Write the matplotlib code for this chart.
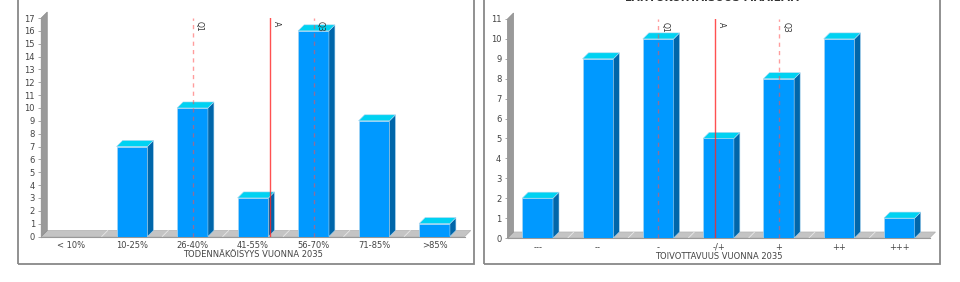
import matplotlib
matplotlib.use("Agg")
import matplotlib.pyplot as plt
from matplotlib.patches import Polygon, Rectangle

# data
cats_left = ["< 10%", "10-25%", "26-40%", "41-55%", "56-70%", "71-85%", ">85%"]
vals_left = [0, 7, 10, 3, 16, 9, 1]
marks_left = {"Q1": 2.0, "A": 3.28, "Q3": 4.0}

cats_right = ["---", "--", "-", "-/+", "+", "++", "+++"]
vals_right = [2, 9, 10, 5, 8, 10, 1]
marks_right = {"Q1": 2.0, "A": 2.94, "Q3": 4.0}

W, H = 960, 282
fig = plt.figure(figsize=(W / 100, H / 100), dpi=100)
fig.patch.set_facecolor("white")


def px_axes(x0, x1, ytop, ybot):
    # pixel box (y from top) -> figure fraction axes
    return fig.add_axes([x0 / W, 1 - ybot / H, (x1 - x0) / W, (ybot - ytop) / H])


def frame(x0, x1, ytop, ybot):
    r = Rectangle((x0 / W, 1 - ybot / H), (x1 - x0) / W, (ybot - ytop) / H,
                  transform=fig.transFigure, fill=False, edgecolor="#888888", lw=1.3)
    fig.add_artist(r)


def draw_panel(ax, cats, vals, marks, ymax, xlabel, wpx, hpx):
    n = len(cats)
    ax.set_xlim(-0.5, n - 0.5)
    ax.set_ylim(0, ymax)
    dx = 6 / (wpx / n)
    dy = 6 / (hpx / ymax)
    x0, x1 = -0.5, n - 0.5

    # floor and wall
    ax.add_patch(Polygon([(x0, 0), (x1, 0), (x1 + dx, dy), (x0 + dx, dy)],
                         closed=True, fc="#c4c4c4", ec="#b0b0b0", lw=0.5,
                         zorder=1, clip_on=False))
    ax.add_patch(Polygon([(x0, 0), (x0 + dx, dy), (x0 + dx, ymax + dy), (x0, ymax)],
                         closed=True, fc="#9a9a9a", ec="#8a8a8a", lw=0.5,
                         zorder=1, clip_on=False))
    for k in range(n - 1):
        ax.plot([k + 0.5, k + 0.5 + dx], [0, dy], color="#e8e8e8", lw=0.6,
                zorder=1.5, clip_on=False)

    # bars with 3D faces
    w = 0.51
    xs = list(range(n))
    ax.bar(xs, vals, width=w, color="#0099ff", edgecolor="#a8d4f0", lw=0.5, zorder=3)
    for x, v in zip(xs, vals):
        if v == 0:
            continue
        r = x + w / 2
        l = x - w / 2
        ax.add_patch(Polygon([(r, 0), (r + dx, dy), (r + dx, v + dy), (r, v)],
                             closed=True, fc="#0066aa", ec="#a8d4f0", lw=0.4,
                             zorder=3, clip_on=False))
        ax.add_patch(Polygon([(l, v), (r, v), (r + dx, v + dy), (l + dx, v + dy)],
                             closed=True, fc="#00d2f2", ec="#a8d4f0", lw=0.4,
                             zorder=3, clip_on=False))

    # quartile / average markers
    for name, pos in marks.items():
        if name == "A":
            ax.plot([pos, pos], [0, ymax], color=(1, 0.15, 0.15, 0.8), lw=1.0, zorder=5)
        else:
            ax.plot([pos, pos], [0, ymax], color=(1, 0.3, 0.3, 0.55), lw=1.0,
                    ls=(0, (3, 3)), zorder=5)
        ax.text(pos + 0.04, ymax - 0.15 * ymax / 17 * 1.5, name, rotation=-90,
                ha="left", va="top", fontsize=5.5, color="#333333", zorder=6)

    for s in ["top", "right"]:
        ax.spines[s].set_visible(False)
    ax.spines["left"].set_color("#999999")
    ax.spines["left"].set_linewidth(0.8)
    ax.spines["bottom"].set_color("#999999")
    ax.spines["bottom"].set_linewidth(0.8)
    ax.set_yticks(range(0, ymax + 1))
    ax.tick_params(axis="y", labelsize=6, labelcolor="#444444", color="#999999",
                   length=2.5, width=0.6, pad=2)
    ax.set_xticks(xs)
    ax.set_xticklabels(cats)
    ax.tick_params(axis="x", labelsize=6, labelcolor="#444444", length=0, pad=3.5)
    ax.set_xlabel(xlabel, fontsize=6, color="#444444", labelpad=0)
    ax.patch.set_alpha(0)


# left panel
frame(18, 474, -10, 263.5)
axl = px_axes(41.25, 464.75, 18, 236.5)
draw_panel(axl, cats_left, vals_left, marks_left, 17, "TODENNÄKÖISYYS VUONNA 2035",
           423.5, 218.5)

# right panel
frame(484, 940, -10, 264)
axr = px_axes(507.5, 929.5, 19, 238)
draw_panel(axr, cats_right, vals_right, marks_right, 11, "TOIVOTTAVUUS VUONNA 2035",
           422, 219)

# title of the right panel, mostly cut off at the top edge (as in the reference)
fig.text(712 / W, 1 - 0.8 / H, "LÄHTÖKOHTAISUUS MAAILMA", ha="center", va="baseline",
         fontsize=7.5, fontweight="bold", color="#333333")

fig.savefig("out.png", dpi=100)
